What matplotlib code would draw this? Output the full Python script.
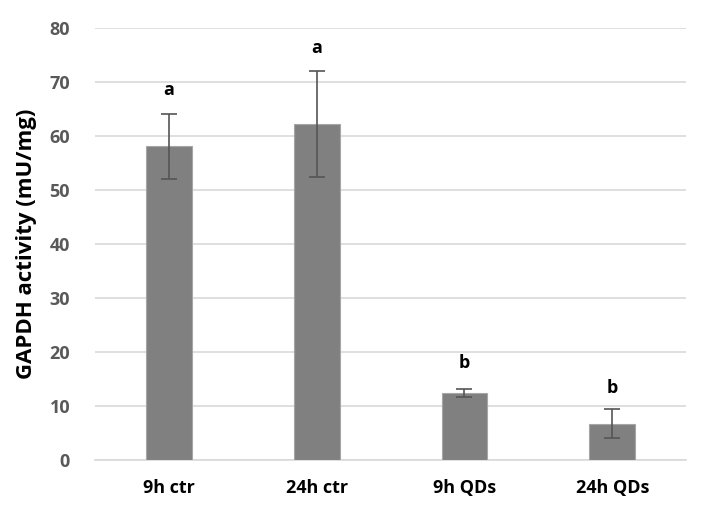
import matplotlib
matplotlib.use("Agg")
import matplotlib.pyplot as plt

categories = ["9h ctr", "24h ctr", "9h QDs", "24h QDs"]
values = [58.1, 62.2, 12.4, 6.7]
errors = [6.0, 9.8, 0.8, 2.7]
letters = ["a", "a", "b", "b"]
letter_y = [68.5, 76.3, 18.0, 13.3]
yticks = [0, 10, 20, 30, 40, 50, 60, 70, 80]

plt.rcParams['font.family'] = ['Open Sans', 'DejaVu Sans']

fig = plt.figure(figsize=(7.26, 5.18), dpi=100)
ax = fig.add_axes([0.131, 0.112, 0.814, 0.834])

x = list(range(len(categories)))
ax.bar(x, values, width=0.31, color="#808080", edgecolor="#a6a6a6", linewidth=0.8, zorder=3)
ax.errorbar(x, values, yerr=errors, fmt="none", ecolor="#555555", elinewidth=1.2, capsize=6, capthick=1.2, zorder=4)
for xi, lt, ly in zip(x, letters, letter_y):
    ax.text(xi, ly, lt, ha="center", va="center", fontsize=13, fontweight="bold", color="black")

ax.set_xlim(-0.5, len(categories) - 0.5)
ax.set_ylim(0, 80)
ax.set_yticks(yticks)
ax.set_yticklabels([str(t) for t in yticks], fontsize=13, fontweight="bold", color="#595959")
ax.set_xticks(x)
ax.set_xticklabels(categories, fontsize=13, fontweight="bold", color="black")
ax.tick_params(axis="x", length=0, pad=14)
ax.tick_params(axis="y", length=0, pad=18)
ax.grid(axis="y", color="#d9d9d9", linewidth=1.2, zorder=0)
for s in ["top", "right", "left"]:
    ax.spines[s].set_visible(False)
ax.spines["bottom"].set_color("#d9d9d9")
ax.spines["bottom"].set_linewidth(1.2)
ax.set_ylabel("GAPDH activity (mU/mg)", fontsize=16, fontweight="bold", color="black", labelpad=9)

fig.savefig("out.png", dpi=100)
